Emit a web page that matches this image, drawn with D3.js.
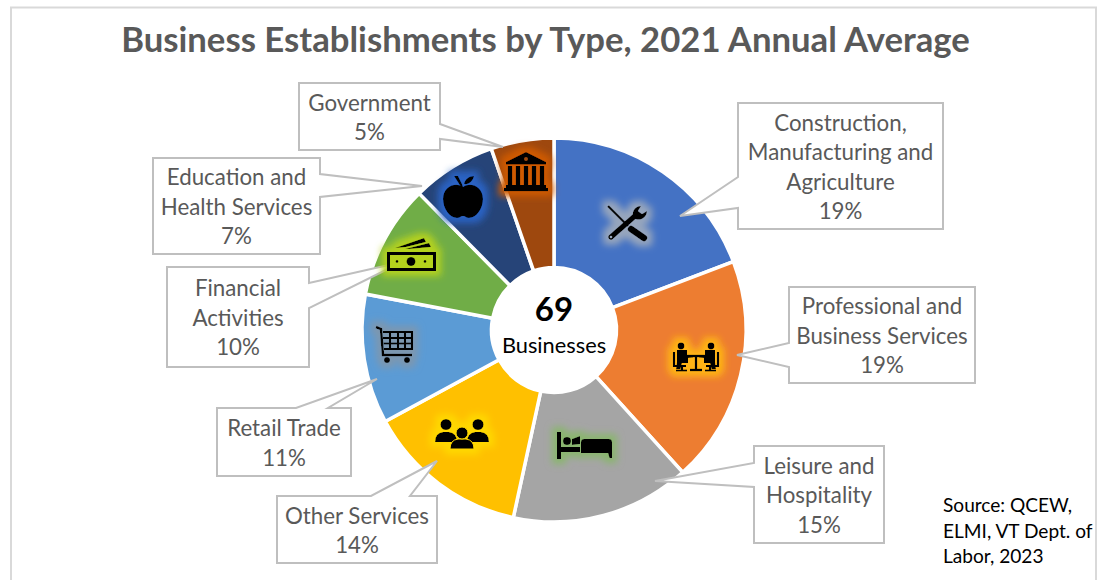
<!DOCTYPE html>
<html><head><meta charset="utf-8">
<style>html,body{margin:0;padding:0;background:#fff;overflow:hidden}svg{display:block}text{font-family:Lato,"Open Sans",sans-serif}</style>
<script src="https://cdn.jsdelivr.net/npm/d3@7"></script></head>
<body><svg id="c" width="1097" height="580"></svg>
<script>
// ---- data ----
const categories = ["Construction,\nManufacturing and\nAgriculture","Professional and\nBusiness Services","Leisure and\nHospitality","Other Services","Retail Trade","Financial\nActivities","Education and\nHealth Services","Government"];
const shares = [19.2,19.1,15.1,13.7,10.9,9.6,7.1,5.3];
const colours = ["#4472C4","#ED7D31","#A5A5A5","#FFC000","#5B9BD5","#70AD47","#264478","#9E480E"];
const glowColours = ["#97a6bd","#ffb414","#8ab56f","#ffd800","#7c97b0","#b4d21e","#2a63c4","#cf5a06"];
const centreValue = "69";
const centreLabel = "Businesses";
const titleText = "Business Establishments by Type, 2021 Annual Average";
const sourceLines = ["Source: QCEW,","ELMI, VT Dept. of","Labor, 2023"];

// ---- layout (annotation geometry) ----
const cx=554, cy=330, rOuter=192, rInner=62.5;
// box [x0,y0,x1,y1], side of the pointer, pointer base [a,b], tip [x,y]
const callouts = [
 {box:[738,103,943,229],side:"left",base:[177,208],tip:[680,216]},
 {box:[789,287,975,383],side:"left",base:[343,367],tip:[737,355]},
 {box:[754,446,884,543],side:"left",base:[463,487],tip:[655,481]},
 {box:[277,496,437,563],side:"top",base:[371,410],tip:[437,461]},
 {box:[217,408,351,476],side:"top",base:[296,328],tip:[377,379]},
 {box:[167,267,309,367],side:"right",base:[283,308],tip:[402,262]},
 {box:[153,158,320,254],side:"right",base:[174,197],tip:[422,186]},
 {box:[299,83,440,150],side:"right",base:[124,139],tip:[503,147]}
];
const iconCentres=[[627,223],[696,357],[584,445],[462,434],[395,345],[411,255],[463,197],[526,172]];

// ---- icon drawings, local coordinates about the icon centre ----
const icons=[
 g=>{ // tools
  g.append("path").attr("d","M-19,-17L1,3").attr("stroke","#000").attr("stroke-width",2.4).attr("fill","none");
  g.append("path").attr("d","M4,6L17,15").attr("stroke","#000").attr("stroke-width",6.5).attr("stroke-linecap","round").attr("fill","none");
  g.append("path").attr("d","M-16,14L9,-8").attr("stroke","#000").attr("stroke-width",5.5).attr("stroke-linecap","round").attr("fill","none");
  g.append("path").attr("d","M14,-17C7,-17 4,-10 7,-5C12,-1 20,-5 20,-12L15,-9L11,-12Z").attr("fill","#000");
  g.append("circle").attr("cx",-16).attr("cy",14).attr("r",1.3).attr("fill","#97a6bd");
 },
 g=>{ // meeting
  [-1,1].forEach(s=>{
   const p=g.append("g").attr("transform",`scale(${s},1)`);
   p.append("circle").attr("cx",15).attr("cy",-11).attr("r",3.4).attr("fill","#000");
   p.append("path").attr("d","M9,-7L19,-7L19,5L20,12L15.5,12L14,6L8,6L8,1L3,0.5L3,-2L9,-2Z").attr("fill","#000");
   p.append("path").attr("d","M22,-5L22,9L10,9M9,13.5L20,13.5M14,8L14,14").attr("stroke","#000").attr("stroke-width",2.2).attr("fill","none");
  });
  g.append("path").attr("d","M-9,-1L9,-1M0,-1L0,12M-6,13L6,13").attr("stroke","#000").attr("stroke-width",2.4).attr("fill","none");
 },
 g=>{ // bed
  g.append("rect").attr("x",-27).attr("y",-13).attr("width",4).attr("height",27).attr("fill","#000");
  g.append("circle").attr("cx",-17).attr("cy",-4).attr("r",4).attr("fill","#000");
  g.append("path").attr("d","M-12,-6L-4,-9L-4,-1L-12,0ZM-23,2L-4,2L-4,7L-23,7Z").attr("fill","#000");
  g.append("path").attr("d","M-3,-3Q-3,-6 0,-6L25,-6Q28,-6 28,-3L28,13L25.5,13L24,8L-3,8Z").attr("fill","#000");
 },
 g=>{ // people
  [-16,16].forEach(x=>{
   g.append("circle").attr("cx",x).attr("cy",-9.5).attr("r",5.6).attr("fill","#000");
   g.append("path").attr("d",`M${x-11},8Q${x-11},-1 ${x-3},-2L${x+3},-2Q${x+11},-1 ${x+11},8Z`).attr("fill","#000");
  });
  g.append("path").attr("d","M-12,15Q-12,6 -4,5L4,5Q12,6 12,15Z").attr("fill","#000").attr("stroke",glowColours[3]).attr("stroke-width",1);
  g.append("circle").attr("cx",0).attr("cy",-1).attr("r",6).attr("fill","#000").attr("stroke",glowColours[3]).attr("stroke-width",1);
 },
 g=>{ // cart
  g.append("path").attr("d","M-19,-18L-14,-16L-12,10L17,10").attr("stroke","#000").attr("stroke-width",2.5).attr("fill","none");
  g.append("path").attr("d","M-12,-13L17,-13L17,4L-11,4M-12,-7L17,-7M-11.5,-1.5L17,-1.5M-5,-13L-5,4M3,-13L3,4M10,-13L10,4").attr("stroke","#000").attr("stroke-width",2.1).attr("fill","none");
  g.append("circle").attr("cx",-8).attr("cy",15).attr("r",3).attr("fill","#000");
  g.append("circle").attr("cx",12).attr("cy",15).attr("r",3).attr("fill","#000");
 },
 g=>{ // money
  g.append("rect").attr("x",-22.5).attr("y",-1.5).attr("width",46).attr("height",16).attr("fill","none").attr("stroke","#000").attr("stroke-width",3);
  g.append("circle").attr("cx",0).attr("cy",6.5).attr("r",4.5).attr("fill","#000");
  g.append("circle").attr("cx",-14).attr("cy",6.5).attr("r",1.4).attr("fill","#000");
  g.append("circle").attr("cx",14).attr("cy",6.5).attr("r",1.4).attr("fill","#000");
  g.append("path").attr("d","M-16,-7L13,-17L15,-13L-5,-8ZM-6,-6L18,-12L20,-8L-2,-6Z").attr("fill","#000");
 },
 g=>{ // apple
  g.append("path").attr("d","M0,-10C-6,-15 -20,-12 -20,2C-20,12 -13,21 -6,21C-3,21 -2,19 0,19C2,19 3,21 6,21C13,21 20,12 20,2C20,-12 6,-15 0,-10Z").attr("fill","#000");
  g.append("path").attr("d","M-9,-21L-2,-10L0,-10L-1,-13L-5,-21ZM1,-13C2,-18 6,-21 11,-21C10,-16 6,-12 1,-13Z").attr("fill","#000");
 },
 g=>{ // bank
  g.append("path").attr("d","M0,-20L20,-10L20,-7.5L-20,-7.5L-20,-10Z").attr("fill","#000");
  g.append("circle").attr("cx",0).attr("cy",-13).attr("r",2).attr("fill",colours[7]);
  [-16,-8,0,8,16].forEach(x=>g.append("rect").attr("x",x-2.2).attr("y",-6).attr("width",4.4).attr("height",20).attr("fill","#000"));
  g.append("rect").attr("x",-20).attr("y",13).attr("width",40).attr("height",3).attr("fill","#000");
  g.append("rect").attr("x",-22).attr("y",16).attr("width",44).attr("height",3.2).attr("fill","#000");
 }
];

// ---- drawing ----
const svg=d3.select("#c");
svg.append("rect").attr("x",11).attr("y",7.5).attr("width",1085).attr("height",600).attr("fill","#fff").attr("stroke","#D9D9D9").attr("stroke-width",2);
svg.append("text").attr("x",545.5).attr("y",52).attr("text-anchor","middle").attr("font-size",34.7).attr("font-weight",700).attr("fill","#595959").text(titleText);

const defs=svg.append("defs");
glowColours.forEach((c,i)=>{
 const f=defs.append("filter").attr("id","glow"+i).attr("x","-50%").attr("y","-50%").attr("width","200%").attr("height","200%");
 f.append("feMorphology").attr("in","SourceAlpha").attr("operator","dilate").attr("radius",4.5).attr("result","d");
 f.append("feGaussianBlur").attr("in","d").attr("stdDeviation",3.5).attr("result","b");
 f.append("feFlood").attr("flood-color",c).attr("result","col");
 f.append("feComposite").attr("in","col").attr("in2","b").attr("operator","in").attr("result","g");
 const m=f.append("feMerge");
 m.append("feMergeNode").attr("in","g");
 m.append("feMergeNode").attr("in","SourceGraphic");
});

const pie=d3.pie().sort(null).value(d=>d);
const arc=d3.arc().innerRadius(rInner).outerRadius(rOuter);
const ring=svg.append("g").attr("transform",`translate(${cx},${cy})`);
ring.selectAll("path").data(pie(shares)).join("path").attr("d",arc)
 .attr("fill",(d,i)=>colours[i]).attr("stroke","#fff").attr("stroke-width",3.5);

// callouts
function outline(c){
 const [x0,y0,x1,y1]=c.box,[a,b]=c.base,t=c.tip;
 if(c.side==="left") return [[x0,y0],[x1,y0],[x1,y1],[x0,y1],[x0,b],t,[x0,a]];
 if(c.side==="right") return [[x0,y0],[x1,y0],[x1,a],t,[x1,b],[x1,y1],[x0,y1]];
 return [[x0,y0],[a,y0],t,[b,y0],[x1,y0],[x1,y1],[x0,y1]];
}
const line=d3.line();
const lh=29.4;
callouts.forEach((c,i)=>{
 svg.append("path").attr("d",line(outline(c))+"Z").attr("fill","#fff").attr("stroke","#BFBFBF").attr("stroke-width",2);
 const lines=categories[i].split("\n").concat([Math.round(shares[i])+"%"]);
 const [x0,y0,x1,y1]=c.box;
 const first=y0+((y1-y0)-lines.length*lh)/2+23.5;
 const t=svg.append("text").attr("text-anchor","middle").attr("font-size",22.3).attr("fill","#595959");
 lines.forEach((s,k)=>t.append("tspan").attr("x",(x0+x1)/2).attr("y",first+k*lh).text(s));
});

// icons
icons.forEach((draw,i)=>{
 const g=svg.append("g").attr("transform",`translate(${iconCentres[i][0]},${iconCentres[i][1]})`).attr("filter",`url(#glow${i})`);
 draw(g);
});

// centre
svg.append("text").attr("x",cx).attr("y",321).attr("text-anchor","middle").attr("font-size",33).attr("font-weight",700).attr("fill","#000").text(centreValue);
svg.append("text").attr("x",cx).attr("y",353).attr("text-anchor","middle").attr("font-size",21.8).attr("fill","#000").text(centreLabel);

// source
const st=svg.append("text").attr("font-size",19.1).attr("fill","#000");
sourceLines.forEach((s,k)=>st.append("tspan").attr("x",943).attr("y",512+k*25.7).text(s));
</script></body></html>
